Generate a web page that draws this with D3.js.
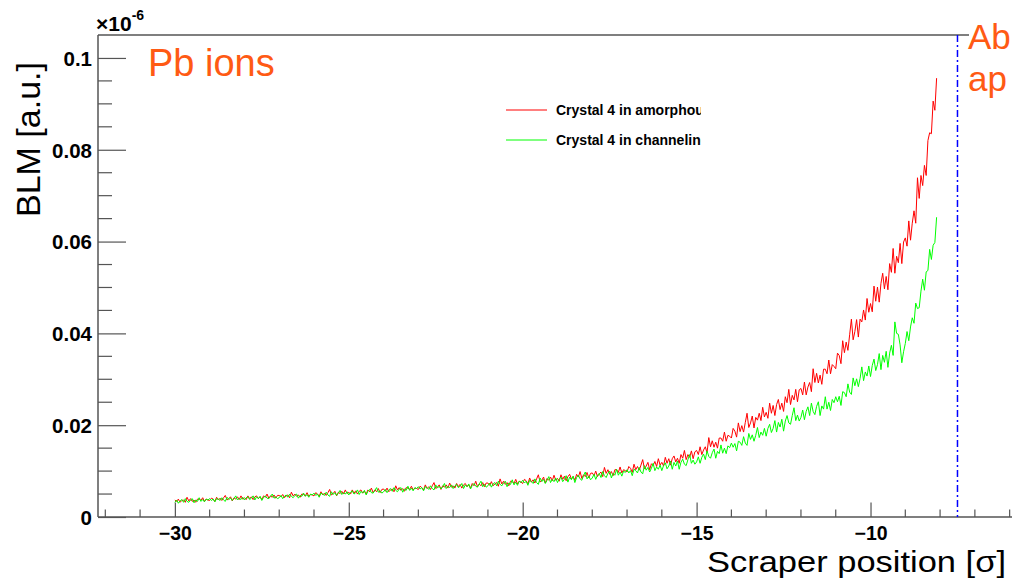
<!DOCTYPE html>
<html>
<head>
<meta charset="utf-8">
<script src="https://cdn.jsdelivr.net/npm/d3@7"></script>
<style>
  html, body { margin: 0; padding: 0; background: #fff; }
  svg { display: block; font-family: "Liberation Sans", Arial, Helvetica, sans-serif; }
</style>
</head>
<body>
<svg id="chart" width="1012" height="581"></svg>
<script>
// Scraper scan: BLM signal vs scraper position, sampled every 0.05 sigma from -30 sigma.
// Signal values are in units of 1e-9 a.u. (the axis is labelled in units of 1e-6).
const scanStart = -30;
const scanStep = 0.05;

const amorphousBLM = [
  3.7,3.4,3.9,3.2,3.6,3.7,3.2,4.3,3.5,4.0,3.4,3.7,3.2,3.9,3.9,3.6,4.2,3.4,3.9,3.7,
  3.6,4.1,3.9,3.4,4.3,3.7,4.1,3.6,4.2,4.7,3.7,4.0,4.4,3.5,4.2,3.9,4.4,3.8,4.6,3.9,
  4.2,3.8,4.6,4.0,4.4,3.8,4.4,4.6,4.0,4.4,3.8,4.6,4.3,5.0,4.1,4.6,4.3,4.8,4.1,4.7,
  4.7,4.4,4.9,4.2,4.6,4.8,4.2,5.4,4.6,5.0,4.5,4.8,4.3,5.0,4.9,4.6,5.3,4.5,4.9,4.8,
  4.6,5.3,5.0,4.5,5.5,4.8,5.2,4.7,5.3,6.0,4.8,5.1,5.6,4.6,5.4,5.1,5.6,5.0,5.9,5.1,
  5.4,5.0,5.9,5.2,5.7,5.0,5.6,5.9,5.2,5.6,5.0,5.9,5.5,6.3,5.3,5.9,5.5,6.2,5.3,6.0,
  6.1,5.6,6.3,5.5,5.9,6.1,5.5,6.8,5.9,6.4,5.8,6.2,5.6,6.4,6.3,6.0,6.7,5.9,6.3,6.2,
  6.0,6.7,6.4,5.9,7.0,6.2,6.6,6.0,6.8,7.5,6.2,6.5,7.0,6.0,6.8,6.5,7.0,6.3,7.4,6.5,
  6.8,6.3,7.3,6.6,7.1,6.3,7.0,7.3,6.6,7.0,6.3,7.3,6.8,7.8,6.6,7.2,6.8,7.5,6.6,7.4,
  7.4,6.9,7.7,6.8,7.2,7.5,6.7,8.3,7.2,7.8,7.1,7.5,6.8,7.8,7.7,7.3,8.2,7.2,7.8,7.6,
  7.3,8.2,7.9,7.2,8.5,7.6,8.1,7.4,8.3,9.2,7.6,8.0,8.7,7.4,8.4,8.0,8.7,7.9,9.1,8.0,
  8.4,7.8,9.2,8.2,8.9,7.9,8.8,9.3,8.3,8.8,8.0,9.3,8.7,9.9,8.4,9.2,8.8,9.7,8.5,9.5,
  9.6,9.0,10.0,8.8,9.4,9.8,8.8,10.8,9.5,10.3,9.3,9.9,9.0,10.3,10.3,9.7,10.9,9.6,10.3,10.1,
  9.8,11.0,10.6,9.7,11.5,10.3,11.0,10.2,11.3,12.5,10.5,11.1,11.9,10.3,11.6,11.2,12.1,11.0,12.7,11.3,
  11.9,11.1,13.0,11.7,12.7,11.3,12.7,13.3,12.0,12.8,11.7,13.6,12.8,14.5,12.5,13.6,13.0,14.4,12.7,14.2,
  14.5,13.6,15.3,13.6,14.6,15.3,14.0,17.3,15.3,16.6,15.2,16.3,15.0,17.2,17.2,16.5,18.5,16.5,17.8,17.6,
  17.2,19.3,18.7,17.4,20.5,18.6,19.9,18.5,20.6,22.6,19.5,20.5,22.0,19.4,21.7,21.1,22.6,21.0,23.9,21.8,
  22.8,21.5,24.8,22.6,24.3,22.1,24.5,25.6,23.4,24.8,23.0,26.2,24.9,27.8,24.5,26.5,25.5,27.8,25.1,27.7,
  28.0,26.6,29.4,26.6,28.3,29.3,27.3,32.3,29.3,31.3,29.2,30.9,28.9,32.2,32.2,31.2,34.2,31.2,33.2,32.8,
  32.3,35.7,35.2,33.4,38.4,35.8,38.1,36.3,39.7,43.1,38.6,40.4,43.0,39.2,43.1,42.5,45.1,42.9,47.6,44.6,
  46.5,44.7,50.3,47.0,50.1,46.8,50.9,53.1,49.7,52.4,49.5,55.2,53.3,58.5,53.1,56.8,55.4,59.6,55.2,59.9,
  60.8,59.0,64.5,60.3,64.0,66.7,64.0,73.9,69.4,74.4,72.2,76.6,74.4,82.0,83.7,83.5,90.6,88.6,95.6
];

const channelingBLM = [
  3.2,3.7,3.0,3.5,3.8,3.2,4.0,3.4,3.2,3.7,4.0,3.1,3.7,3.4,4.2,3.4,3.8,3.3,3.9,3.7,
  4.0,3.6,3.9,3.3,4.0,3.9,3.6,4.2,3.7,3.4,4.3,3.8,4.1,3.6,4.0,4.6,3.7,4.1,3.8,4.3,
  3.7,4.2,4.4,3.8,4.1,4.6,3.7,4.4,4.0,4.5,3.6,4.3,4.6,4.1,4.0,4.5,5.0,4.1,4.4,4.0,
  4.2,4.7,4.0,4.5,4.8,4.3,5.0,4.5,4.2,4.7,5.0,4.1,4.7,4.5,5.2,4.5,4.9,4.3,5.0,4.8,
  5.2,4.7,5.0,4.3,5.2,5.0,4.7,5.4,4.8,4.5,5.5,4.9,5.3,4.7,5.2,5.8,4.9,5.3,5.0,5.5,
  4.8,5.4,5.7,5.0,5.3,5.9,4.9,5.6,5.2,5.8,4.8,5.6,6.0,5.3,5.2,5.8,6.4,5.4,5.7,5.2,
  5.5,6.0,5.3,5.9,6.2,5.6,6.4,5.8,5.5,6.1,6.4,5.4,6.1,5.8,6.7,5.8,6.3,5.7,6.4,6.2,
  6.6,6.1,6.4,5.7,6.6,6.4,6.0,6.8,6.2,5.9,7.0,6.3,6.7,6.1,6.6,7.3,6.2,6.7,6.4,7.0,
  6.2,6.8,7.1,6.4,6.7,7.3,6.2,7.0,6.6,7.2,6.1,6.9,7.3,6.7,6.5,7.2,7.8,6.6,7.1,6.5,
  6.8,7.4,6.5,7.2,7.5,6.8,7.8,7.1,6.8,7.4,7.8,6.6,7.4,7.1,8.1,7.0,7.6,6.9,7.8,7.5,
  8.0,7.4,7.8,6.9,8.0,7.7,7.3,8.3,7.5,7.1,8.5,7.7,8.2,7.3,8.0,8.8,7.5,8.2,7.7,8.5,
  7.5,8.3,8.7,7.7,8.2,9.0,7.6,8.7,8.1,8.9,7.5,8.6,9.1,8.3,8.0,9.0,9.8,8.3,8.9,8.1,
  8.5,9.3,8.2,9.1,9.5,8.6,9.9,9.0,8.6,9.5,10.0,8.5,9.5,9.1,10.4,9.1,9.8,8.9,10.0,9.7,
  10.3,9.6,10.1,9.0,10.4,10.1,9.6,10.8,9.8,9.4,11.2,10.2,10.8,9.8,10.6,11.7,10.1,10.9,10.4,11.3,
  10.1,11.2,11.8,10.5,11.1,12.2,10.4,11.9,11.1,12.2,10.4,11.9,12.6,11.5,11.2,12.5,13.6,11.7,12.4,11.5,
  12.0,13.1,11.7,13.0,13.7,12.5,14.4,13.2,12.8,14.0,14.8,12.8,14.3,13.8,15.7,13.9,15.0,13.8,15.5,15.1,
  16.1,15.2,16.0,14.4,16.5,16.3,15.6,17.5,16.1,15.6,18.2,16.9,17.9,16.5,17.8,19.5,17.3,18.5,17.8,19.3,
  17.6,19.3,20.2,18.4,19.3,21.0,18.5,20.6,19.6,21.3,18.7,20.9,22.1,20.5,20.2,22.1,23.8,21.0,22.2,20.9,
  21.7,23.3,21.2,23.0,24.0,22.1,24.8,23.0,22.3,24.1,25.1,22.1,24.2,23.5,26.2,23.5,25.0,23.2,25.6,24.9,
  26.2,25.1,26.3,24.3,27.3,27.1,26.2,29.0,27.2,26.7,30.3,28.6,30.1,28.4,30.2,32.7,29.7,31.6,30.7,32.9,
  30.6,33.0,34.4,31.9,33.2,35.6,32.1,35.2,33.7,36.1,32.6,35.7,37.4,35.2,42.5,40.0,39.8,37.5,33.6,36.0,
  37.8,40.4,38.4,41.4,43.4,42.2,46.6,45.4,45.6,49.2,51.8,49.4,53.4,53.7,58.3,56.1,59.2,59.8,65.3
];

const seriesNames = ["Crystal 4 in amorphous", "Crystal 4 in channeling"];
const seriesColors = ["#ff0000", "#00ff00"];
const xTickValues = [-30, -25, -20, -15, -10];
const yTickValues = [0, 20, 40, 60, 80, 100];
const absorberPosition = -7.5;

const svg = d3.select("#chart");

const x = d3.scaleLinear().domain([-32.21, -5.3]).range([98, 1034]);
const y = d3.scaleLinear().domain([0, 105]).range([517, 35]);

const axisColor = "#555";
const plotTop = y(105), plotBottom = y(0), plotLeft = x.range()[0];

// Minor ticks on x (every 1 sigma) and y (every 5e-9)
const xMinor = d3.range(-32, -5, 1).filter(v => !xTickValues.includes(v));
const yMinor = d3.range(5, 105, 5).filter(v => !yTickValues.includes(v));

const gAxes = svg.append("g");

// x axis: ticks point upward into the plot
const xAxis = d3.axisBottom(x).tickValues(xTickValues).tickSize(-14.5)
  .tickFormat(d3.format("d")).tickPadding(9);
const gx = gAxes.append("g").attr("transform", `translate(0,${plotBottom})`).call(xAxis);
gx.append("g").selectAll("line").data(xMinor).join("line")
  .attr("x1", d => x(d)).attr("x2", d => x(d)).attr("y1", 0).attr("y2", -7.5);

// y axis: ticks point right into the plot
const yAxis = d3.axisLeft(y).tickValues(yTickValues).tickSize(-28)
  .tickFormat(d => d === 0 ? "0" : d3.format("")(d / 1000)).tickPadding(6);
const gy = gAxes.append("g").attr("transform", `translate(${plotLeft},0)`).call(yAxis);
gy.append("g").selectAll("line").data(yMinor).join("line")
  .attr("x1", 0).attr("x2", 14).attr("y1", d => y(d)).attr("y2", d => y(d));

[gx, gy].forEach(g => {
  g.select(".domain").remove();
  g.selectAll("line").attr("stroke", axisColor).attr("stroke-width", 1.2);
  g.selectAll("text").attr("fill", "#000").attr("font-weight", "bold")
    .attr("font-family", "Liberation Sans, Arial, sans-serif");
});
gx.selectAll(".tick text").attr("font-size", 19.5).attr("dy", "0.71em");
gy.selectAll(".tick text").attr("font-size", 20.5).attr("dy", "0.36em");

// Frame lines: left, bottom, top
gAxes.append("line").attr("x1", plotLeft).attr("x2", plotLeft).attr("y1", plotTop).attr("y2", plotBottom)
  .attr("stroke", axisColor).attr("stroke-width", 1.5);
gAxes.append("line").attr("x1", plotLeft).attr("x2", 1012).attr("y1", plotBottom).attr("y2", plotBottom)
  .attr("stroke", axisColor).attr("stroke-width", 1.5);
gAxes.append("line").attr("x1", plotLeft).attr("x2", 969).attr("y1", plotTop).attr("y2", plotTop)
  .attr("stroke", axisColor).attr("stroke-width", 1.5);

// Data lines
const line = d3.line().x((d, i) => x(scanStart + i * scanStep)).y(d => y(d));
[amorphousBLM, channelingBLM].forEach((vals, k) => {
  svg.append("path").datum(vals).attr("d", line)
    .attr("fill", "none").attr("stroke", seriesColors[k]).attr("stroke-width", 1);
});

// Absorber position marker
svg.append("line")
  .attr("x1", x(absorberPosition)).attr("x2", x(absorberPosition))
  .attr("y1", plotTop).attr("y2", plotBottom)
  .attr("stroke", "#0000ff").attr("stroke-width", 1.5)
  .attr("stroke-dasharray", "7,3,2,3");

// Legend (clipped box)
svg.append("clipPath").attr("id", "legClip").append("rect")
  .attr("x", 500).attr("y", 90).attr("width", 201).attr("height", 70);
const leg = svg.append("g").attr("clip-path", "url(#legClip)");
seriesNames.forEach((name, k) => {
  const ly = 110 + k * 30;
  leg.append("line").attr("x1", 506).attr("x2", 547).attr("y1", ly).attr("y2", ly)
    .attr("stroke", seriesColors[k]).attr("stroke-width", 1);
  leg.append("text").attr("x", 556).attr("y", ly + 5).text(name)
    .attr("font-size", 14).attr("font-weight", "bold").attr("fill", "#000");
});

// Exponent label
const expo = svg.append("text").attr("x", 96).attr("y", 31)
  .attr("font-size", 21).attr("font-weight", "bold").attr("fill", "#000");
expo.append("tspan").text("\u00d710");
expo.append("tspan").attr("dy", -11).attr("font-size", 14).text("-6");

// Axis titles
svg.append("text").attr("transform", "translate(40,139.5) rotate(-90)")
  .attr("text-anchor", "middle").attr("font-size", 34).attr("fill", "#000")
  .text("BLM [a.u.]");
svg.append("text").attr("x", 707).attr("y", 572)
  .attr("font-size", 29).attr("fill", "#000")
  .attr("textLength", 299).attr("lengthAdjust", "spacingAndGlyphs")
  .text("Scraper position [\u03c3]");

// Annotations
const orange = "#ff5a14";
svg.append("text").attr("x", 148).attr("y", 76).attr("font-size", 38).attr("fill", orange).text("Pb ions");
svg.append("text").attr("x", 968).attr("y", 49).attr("font-size", 35).attr("fill", orange).text("Ab");
svg.append("text").attr("x", 968).attr("y", 91).attr("font-size", 35).attr("fill", orange).text("ap");
</script>
</body>
</html>
